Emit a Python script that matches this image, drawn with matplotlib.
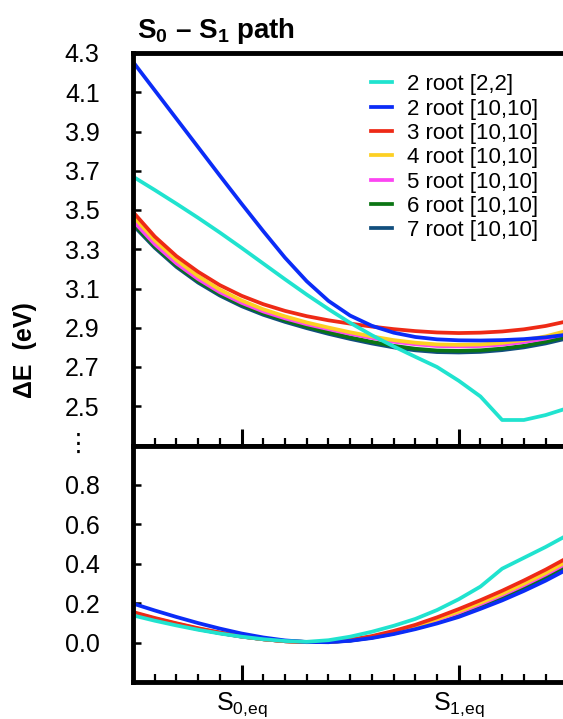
import matplotlib
matplotlib.use('Agg')
import matplotlib.pyplot as plt

plt.rcParams['font.family'] = ['Liberation Sans', 'DejaVu Sans']
plt.rcParams['mathtext.fontset'] = 'custom'
plt.rcParams['mathtext.rm'] = 'Liberation Sans'
plt.rcParams['mathtext.bf'] = 'Liberation Sans:bold'

# path coordinate (image index along the S0 -> S1 path)
path_x = list(range(21))

labels = ['2 root [2,2]', '2 root [10,10]', '3 root [10,10]', '4 root [10,10]',
          '5 root [10,10]', '6 root [10,10]', '7 root [10,10]']
colors = ['#20e3cf', '#0b2cf7', '#ee2a16', '#fdd023', '#fc45f2', '#0b7514', '#114e7d']

# upper panel: S1 energies (eV)
s1_22_r2 = [3.67, 3.602, 3.532, 3.46, 3.385, 3.307, 3.227, 3.147, 3.069, 2.995, 2.925,
            2.862, 2.805, 2.752, 2.70, 2.63, 2.55, 2.43, 2.43, 2.455, 2.49]
s1_1010_r2 = [4.255, 4.11, 3.965, 3.82, 3.675, 3.532, 3.392, 3.257, 3.137, 3.037, 2.962,
              2.91, 2.875, 2.853, 2.841, 2.836, 2.835, 2.837, 2.842, 2.851, 2.865]
s1_1010_r3 = [3.49, 3.365, 3.265, 3.185, 3.117, 3.063, 3.02, 2.986, 2.959, 2.938, 2.921,
              2.906, 2.893, 2.883, 2.876, 2.873, 2.875, 2.881, 2.892, 2.909, 2.933]
s1_1010_r4 = [3.469, 3.346, 3.245, 3.163, 3.094, 3.039, 2.994, 2.958, 2.927, 2.901, 2.877,
              2.856, 2.837, 2.824, 2.815, 2.813, 2.815, 2.823, 2.837, 2.856, 2.885]
s1_1010_r5 = [3.445, 3.326, 3.228, 3.148, 3.081, 3.027, 2.983, 2.948, 2.918, 2.893, 2.869,
              2.848, 2.829, 2.816, 2.807, 2.805, 2.807, 2.814, 2.827, 2.845, 2.870]
s1_1010_r6 = [3.432, 3.316, 3.218, 3.138, 3.072, 3.018, 2.974, 2.938, 2.906, 2.877, 2.851,
              2.828, 2.808, 2.793, 2.784, 2.782, 2.785, 2.794, 2.808, 2.829, 2.855]
s1_1010_r7 = [3.423, 3.308, 3.21, 3.13, 3.064, 3.01, 2.966, 2.93, 2.898, 2.869, 2.843,
              2.82, 2.80, 2.785, 2.776, 2.774, 2.777, 2.786, 2.80, 2.82, 2.846]

# lower panel: S0 energies (eV)
s0_22_r2 = [0.138, 0.111, 0.087, 0.065, 0.046, 0.03, 0.017, 0.008, 0.004, 0.012, 0.03,
            0.055, 0.085, 0.12, 0.165, 0.22, 0.284, 0.375, 0.43, 0.485, 0.545]
s0_1010_r2 = [0.198, 0.163, 0.13, 0.099, 0.071, 0.046, 0.026, 0.011, 0.003, 0.002, 0.009,
              0.023, 0.043, 0.068, 0.097, 0.13, 0.171, 0.214, 0.262, 0.314, 0.372]
s0_1010_r3 = [0.155, 0.125, 0.098, 0.073, 0.051, 0.032, 0.017, 0.007, 0.002, 0.004, 0.014,
              0.033, 0.059, 0.09, 0.128, 0.17, 0.215, 0.263, 0.315, 0.37, 0.43]
s0_1010_r4 = [0.152, 0.122, 0.096, 0.071, 0.05, 0.031, 0.017, 0.007, 0.003, 0.003, 0.013,
              0.030, 0.054, 0.083, 0.119, 0.158, 0.202, 0.248, 0.299, 0.353, 0.413]
s0_1010_r5 = [0.15, 0.121, 0.095, 0.070, 0.049, 0.031, 0.017, 0.007, 0.003, 0.003, 0.012,
              0.029, 0.052, 0.080, 0.114, 0.152, 0.195, 0.241, 0.291, 0.345, 0.404]
s0_1010_r6 = [0.148, 0.119, 0.093, 0.069, 0.049, 0.031, 0.017, 0.007, 0.003, 0.003, 0.011,
              0.027, 0.049, 0.077, 0.109, 0.146, 0.189, 0.234, 0.283, 0.336, 0.395]
s0_1010_r7 = [0.146, 0.117, 0.092, 0.068, 0.048, 0.03, 0.017, 0.007, 0.003, 0.002, 0.010,
              0.025, 0.046, 0.072, 0.103, 0.138, 0.180, 0.224, 0.273, 0.325, 0.384]

upper = [s1_22_r2, s1_1010_r2, s1_1010_r3, s1_1010_r4, s1_1010_r5, s1_1010_r6, s1_1010_r7]
lower = [s0_22_r2, s0_1010_r2, s0_1010_r3, s0_1010_r4, s0_1010_r5, s0_1010_r6, s0_1010_r7]

upper_ticks = [2.5, 2.7, 2.9, 3.1, 3.3, 3.5, 3.7, 3.9, 4.1, 4.3]
lower_ticks = [0.0, 0.2, 0.4, 0.6, 0.8]
x_major = [5, 15]
x_labels = [r'S$_\mathregular{0{,}eq}$', r'S$_\mathregular{1{,}eq}$']

W, H = 563, 719
fig = plt.figure(figsize=(W / 100, H / 100), dpi=100)
# axes run past the right edge of the canvas, like the cropped original
ax1 = fig.add_axes([133 / W, 1 - 445.5 / H, 456 / W, (445.5 - 53) / H])
ax2 = fig.add_axes([133 / W, 1 - 682 / H, 456 / W, (682 - 445.5) / H])

# draw in reverse so that the first series sits on top
for i in reversed(range(len(labels))):
    ax1.plot(path_x, upper[i], color=colors[i], lw=2.7, label=labels[i])
    ax2.plot(path_x, lower[i], color=colors[i], lw=2.7)

ax1.set_ylim(2.3, 4.3)
ax2.set_ylim(-0.2, 1.0)
ax1.set_yticks(upper_ticks)
ax1.set_yticklabels([f'{v:.1f}' for v in upper_ticks])
ax2.set_yticks(lower_ticks)
ax2.set_yticklabels([f'{v:.1f}' for v in lower_ticks])

for ax in (ax1, ax2):
    ax.set_xlim(0, 21)
    ax.set_xticks(x_major)
    ax.set_xticks(range(1, 21), minor=True)
    ax.tick_params(axis='x', which='major', direction='in', length=12, width=2.2,
                   labelsize=18, pad=6)
    ax.tick_params(axis='x', which='minor', direction='in', length=6, width=1.6)
    ax.tick_params(axis='y', which='major', direction='in', length=6, width=1.8,
                   labelsize=18, pad=24)
    for s in ax.spines.values():
        s.set_linewidth(3.5)

ax1.set_xticklabels([])
ax2.set_xticklabels(x_labels)

# legend in the original order
h, l = ax1.get_legend_handles_labels()
ax1.legend(h[::-1], l[::-1], loc='upper left', bbox_to_anchor=(0.522, 0.946),
           frameon=False, fontsize=16, handlelength=0.95, handletextpad=0.65,
           labelspacing=0.15, borderpad=0, borderaxespad=0)

fig.text(137 / W, 1 - 38 / H, r'S$_\mathbf{0}$ – S$_\mathbf{1}$ path', fontsize=20,
         fontweight='bold', ha='left', va='baseline')
fig.text(25 / W, 1 - 350 / H, 'ΔE  (eV)', fontsize=18, fontweight='bold',
         rotation=90, ha='center', va='center')
fig.text(78 / W, 1 - 444 / H, '⋮', fontsize=18, ha='center', va='center',
         family=['DejaVu Sans'])

fig.savefig('out.png', dpi=100)
